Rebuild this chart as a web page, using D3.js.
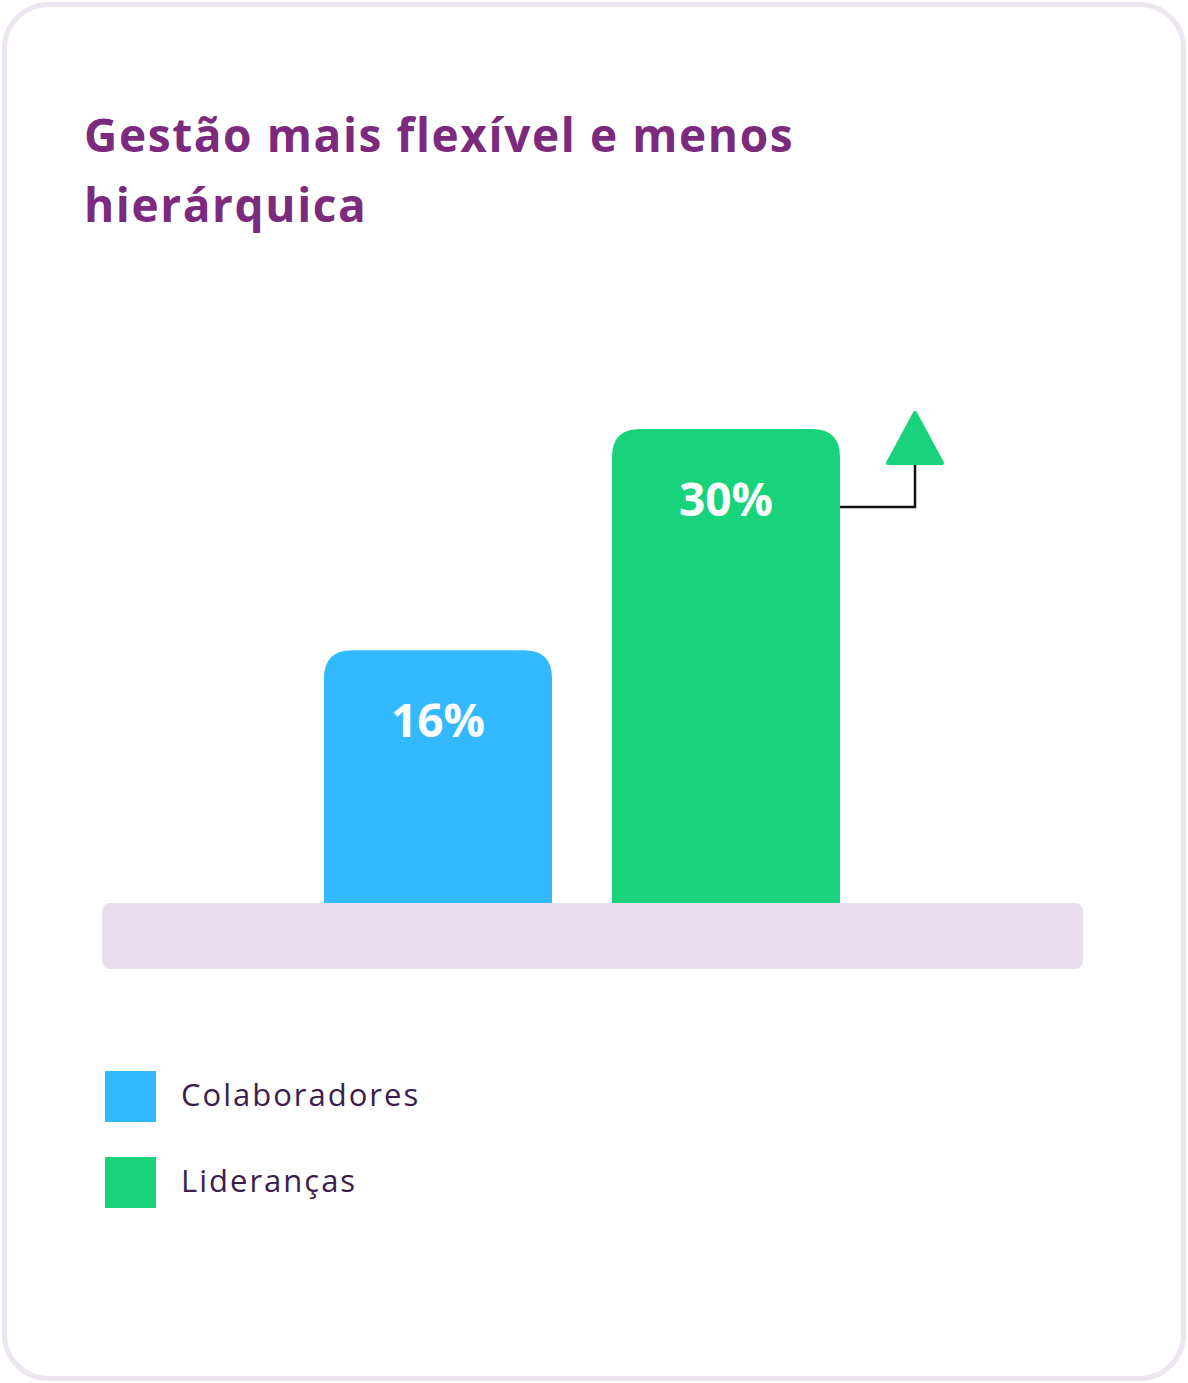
<!DOCTYPE html>
<html>
<head>
<meta charset="utf-8">
<script src="https://cdn.jsdelivr.net/npm/d3@7"></script>
<style>
  html, body { margin: 0; padding: 0; background: #fff; }
  svg { display: block; }
</style>
</head>
<body>
<svg width="1188" height="1383"></svg>
<script>
const titleLines = ["Gestão mais flexível e menos", "hierárquica"];
const categories = ["Colaboradores", "Lideranças"];
const values = [16, 30];
const colors = ["#33b9ff", "#19d37c"];

const svg = d3.select("svg");
const width = +svg.attr("width");
const height = +svg.attr("height");
const font = "'Open Sans', Lato, sans-serif";

// card
svg.append("rect")
    .attr("x", 4.5).attr("y", 4.5)
    .attr("width", width - 9).attr("height", height - 9)
    .attr("rx", 44)
    .attr("fill", "#fff")
    .attr("stroke", "#ede6f0")
    .attr("stroke-width", 5);

// title
svg.append("g").selectAll("text")
    .data(titleLines)
    .enter().append("text")
    .attr("x", 84)
    .attr("y", (d, i) => 152 + i * 70)
    .attr("font-family", font)
    .attr("font-weight", 700)
    .attr("font-size", 46)
    .attr("letter-spacing", 1.6)
    .attr("fill", "#7b2a7e")
    .text(d => d);

// scales
const baseY = 903;
const x = d3.scaleBand()
    .domain(categories)
    .range([324, 840])
    .paddingInner(60 / 288)
    .paddingOuter(0);
const y = d3.scaleLinear()
    .domain([0, 30])
    .range([baseY, 429]);

// base plate
svg.append("rect")
    .attr("x", 102).attr("y", baseY)
    .attr("width", 981).attr("height", 66)
    .attr("rx", 8)
    .attr("fill", "#e9dfec");

// bars with rounded tops
function topRounded(x0, y0, w, h, r) {
    return `M${x0},${y0 + h}V${y0 + r}Q${x0},${y0} ${x0 + r},${y0}H${x0 + w - r}Q${x0 + w},${y0} ${x0 + w},${y0 + r}V${y0 + h}Z`;
}

const data = categories.map((c, i) => ({ cat: c, value: values[i], color: colors[i] }));

svg.append("g").selectAll("path")
    .data(data)
    .enter().append("path")
    .attr("d", d => topRounded(x(d.cat), y(d.value), x.bandwidth(), baseY - y(d.value), 28))
    .attr("fill", d => d.color);

svg.append("g").selectAll("text")
    .data(data)
    .enter().append("text")
    .attr("x", d => x(d.cat) + x.bandwidth() / 2)
    .attr("y", d => y(d.value) + 87)
    .attr("text-anchor", "middle")
    .attr("font-family", font)
    .attr("font-weight", 700)
    .attr("font-size", 46)
    .attr("fill", "#fff")
    .text(d => d.value + "%");

// growth arrow from the top bar
const last = data[data.length - 1];
const ax = x(last.cat) + x.bandwidth();
const ay = y(last.value) + 78;
const tipX = ax + 75;
svg.append("path")
    .attr("d", `M${ax},${ay}H${tipX}V${ay - 46}`)
    .attr("fill", "none")
    .attr("stroke", "#111")
    .attr("stroke-width", 2.5);
svg.append("path")
    .attr("d", `M${tipX},${ay - 94}L${tipX + 27},${ay - 44}L${tipX - 27},${ay - 44}Z`)
    .attr("fill", last.color)
    .attr("stroke", last.color)
    .attr("stroke-width", 4)
    .attr("stroke-linejoin", "round");

// legend
const legend = svg.append("g").selectAll("g")
    .data(data)
    .enter().append("g")
    .attr("transform", (d, i) => `translate(105,${1071 + i * 86})`);
legend.append("rect")
    .attr("width", 51).attr("height", 51)
    .attr("fill", d => d.color);
legend.append("text")
    .attr("x", 76)
    .attr("y", 35)
    .attr("font-family", font)
    .attr("font-size", 31)
    .attr("letter-spacing", 2)
    .attr("fill", "#3b1e4c")
    .text(d => d.cat);
</script>
</body>
</html>
